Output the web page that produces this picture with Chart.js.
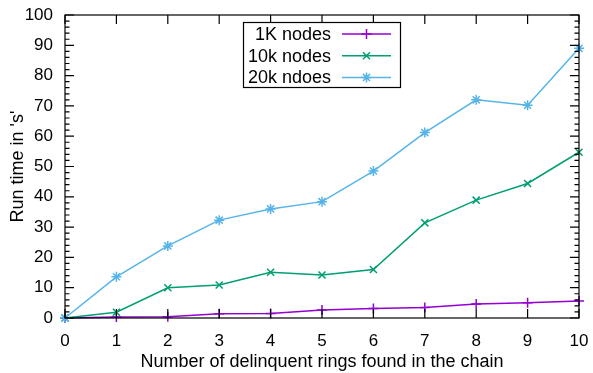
<!DOCTYPE html>
<html><head><meta charset="utf-8">
<script src="https://cdn.jsdelivr.net/npm/chart.js@4"></script>
<style>html,body{margin:0;padding:0;background:#fff}#wrap{width:593px;height:373px}</style>
</head><body><div id="wrap"><canvas id="c" width="593" height="373"></canvas></div>
<script>
const rings = [0,1,2,3,4,5,6,7,8,9,10];
const nodes1K  = [0,0.3,0.4,1.4,1.5,2.6,3.1,3.5,4.6,5.0,5.6];
const nodes10k = [0,1.9,10,10.9,15.1,14.2,16,31.4,38.9,44.4,54.7];
const nodes20k = [0,13.6,23.8,32.3,36,38.4,48.5,61.2,72,70.2,89];
const seriesLabels = ['1K nodes','10k nodes','20k ndoes'];
const yTicks = [0,10,20,30,40,50,60,70,80,90,100];
const xTitle = 'Number of delinquent rings found in the chain';
const yTitle = "Run time in 's'";

const colors = ['#9400d3','#009e73','#56b4e9'];
const styles = ['cross','crossRot','star'];
const FONT = '"Liberation Sans", Arial, sans-serif';

function mk(vals,i){
  return {
    label: seriesLabels[i],
    data: rings.map((r,k)=>({x:r,y:vals[k]})),
    borderColor: colors[i], backgroundColor: colors[i],
    borderWidth: 1.5, pointStyle: styles[i], pointRadius: 5,
    pointBorderWidth: 1.5, pointBorderColor: colors[i],
    tension: 0, clip: false, order: 3-i
  };
}

function drawMarker(ctx, style, x, y, r){
  ctx.beginPath();
  if(style==='cross'||style==='star'){
    ctx.moveTo(x-r,y);ctx.lineTo(x+r,y);ctx.moveTo(x,y-r);ctx.lineTo(x,y+r);
  }
  if(style==='crossRot'||style==='star'){
    const d=r*Math.SQRT1_2;
    ctx.moveTo(x-d,y-d);ctx.lineTo(x+d,y+d);ctx.moveTo(x-d,y+d);ctx.lineTo(x+d,y-d);
  }
  ctx.stroke();
}

const framePlugin = {
  id:'frame',
  afterDraw(chart){
    const {ctx, chartArea:a, scales} = chart;
    const xs = scales.x, ys = scales.y;
    ctx.save();
    ctx.strokeStyle='#000'; ctx.lineWidth=1.2;
    ctx.strokeRect(a.left, a.top, a.right-a.left, a.bottom-a.top);
    ctx.beginPath();
    rings.forEach(v=>{
      const px = xs.getPixelForValue(v);
      ctx.moveTo(px,a.bottom);ctx.lineTo(px,a.bottom-9);
      ctx.moveTo(px,a.top);ctx.lineTo(px,a.top+9);
    });
    for(let v=0; v<=100; v+=2){
      const py = ys.getPixelForValue(v);
      const len = (v%10===0)?9:4.5;
      ctx.moveTo(a.left,py);ctx.lineTo(a.left+len,py);
      ctx.moveTo(a.right,py);ctx.lineTo(a.right-len,py);
    }
    ctx.stroke();
    // legend
    const bx=243.5, by=22.5, bw=157, bh=65;
    ctx.fillStyle='#fff';
    ctx.fillRect(bx,by,bw,bh);
    ctx.strokeStyle='#000'; ctx.lineWidth=1.2;
    ctx.strokeRect(bx,by,bw,bh);
    ctx.font = '18px '+FONT;
    ctx.textAlign='right'; ctx.textBaseline='middle';
    chart.data.datasets.forEach((ds,i)=>{
      const ry = 34 + i*21.7;
      ctx.fillStyle='#000';
      ctx.fillText(ds.label, 331, ry+1);
      ctx.strokeStyle=ds.borderColor; ctx.lineWidth=1.5;
      ctx.beginPath();ctx.moveTo(342,ry);ctx.lineTo(391,ry);ctx.stroke();
      drawMarker(ctx, ds.pointStyle, 366.5, ry, 5);
    });
    ctx.restore();
  }
};

function noPad(s){ s.paddingLeft=0; s.paddingRight=0; s.paddingTop=0; s.paddingBottom=0; }

new Chart(document.getElementById('c'), {
  type:'line',
  data:{ datasets:[mk(nodes1K,0), mk(nodes10k,1), mk(nodes20k,2)] },
  options:{
    responsive:false, animation:false, devicePixelRatio:1,
    layout:{padding:{top:15,right:14,left:0,bottom:0}},
    plugins:{legend:{display:false}, tooltip:{enabled:false}},
    scales:{
      x:{type:'linear', min:0, max:10,
         afterFit(s){s.height=55; noPad(s);},
         grid:{display:false, drawTicks:false}, border:{display:false},
         ticks:{stepSize:1, padding:13, color:'#000', font:{family:FONT,size:17}, maxRotation:0},
         title:{display:true, text:xTitle, color:'#000', font:{family:FONT,size:18}, padding:{top:0,bottom:0}}},
      y:{type:'linear', min:0, max:100,
         afterFit(s){s.width=65; noPad(s);},
         afterBuildTicks(s){s.ticks = yTicks.map(v=>({value:v}));},
         grid:{display:false, drawTicks:false}, border:{display:false},
         ticks:{padding:12, color:'#000', font:{family:FONT,size:17}},
         title:{display:true, text:yTitle, color:'#000', font:{family:FONT,size:18}, padding:{top:7,bottom:0}}}
    }
  },
  plugins:[framePlugin]
});
</script>
</body></html>
